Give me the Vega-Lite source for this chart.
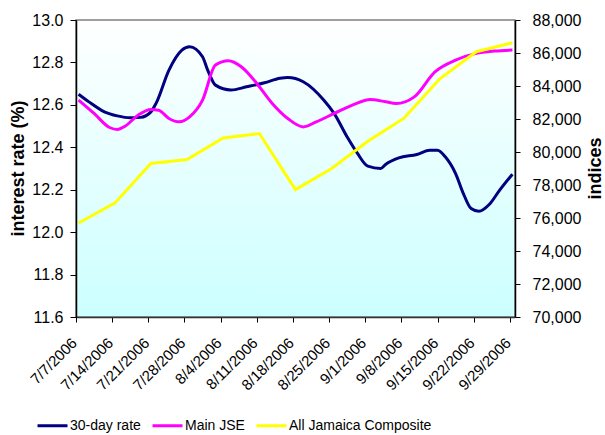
{
  "$schema": "https://vega.github.io/schema/vega-lite/v6.json",
  "width": 439,
  "height": 297,
  "autosize": {"type": "none"},
  "padding": {"left": 76, "top": 20, "right": 90, "bottom": 118},
  "background": "#ffffff",
  "view": {
    "fill": {
      "gradient": "linear", "x1": 0, "y1": 0, "x2": 0, "y2": 1,
      "stops": [{"offset": 0, "color": "#ffffff"}, {"offset": 1, "color": "#ccffff"}]
    },
    "stroke": "#808080",
    "strokeWidth": 1.5
  },
  "datasets": {
    "rate": [
      {"date": "2006-07-07T12:00:00", "value": 12.65},
      {"date": "2006-07-09T12:00:00", "value": 12.614},
      {"date": "2006-07-12T12:00:00", "value": 12.567},
      {"date": "2006-07-15T00:00:00", "value": 12.548},
      {"date": "2006-07-17T12:00:00", "value": 12.539},
      {"date": "2006-07-19T12:00:00", "value": 12.541},
      {"date": "2006-07-21T12:00:00", "value": 12.567},
      {"date": "2006-07-22T12:00:00", "value": 12.607},
      {"date": "2006-07-25T00:00:00", "value": 12.764},
      {"date": "2006-07-27T12:00:00", "value": 12.858},
      {"date": "2006-07-29T00:00:00", "value": 12.874},
      {"date": "2006-07-31T12:00:00", "value": 12.827},
      {"date": "2006-08-01T12:00:00", "value": 12.764},
      {"date": "2006-08-03T00:00:00", "value": 12.693},
      {"date": "2006-08-06T00:00:00", "value": 12.67},
      {"date": "2006-08-09T00:00:00", "value": 12.685},
      {"date": "2006-08-12T12:00:00", "value": 12.704},
      {"date": "2006-08-15T12:00:00", "value": 12.725},
      {"date": "2006-08-17T00:00:00", "value": 12.729},
      {"date": "2006-08-20T00:00:00", "value": 12.709},
      {"date": "2006-08-24T00:00:00", "value": 12.622},
      {"date": "2006-08-26T00:00:00", "value": 12.559},
      {"date": "2006-08-28T12:00:00", "value": 12.449},
      {"date": "2006-08-30T12:00:00", "value": 12.371},
      {"date": "2006-09-01T12:00:00", "value": 12.311},
      {"date": "2006-09-04T00:00:00", "value": 12.3},
      {"date": "2006-09-05T00:00:00", "value": 12.32},
      {"date": "2006-09-07T12:00:00", "value": 12.35},
      {"date": "2006-09-11T00:00:00", "value": 12.366},
      {"date": "2006-09-13T12:00:00", "value": 12.386},
      {"date": "2006-09-15T00:00:00", "value": 12.386},
      {"date": "2006-09-16T12:00:00", "value": 12.355},
      {"date": "2006-09-18T12:00:00", "value": 12.276},
      {"date": "2006-09-20T00:00:00", "value": 12.182},
      {"date": "2006-09-21T12:00:00", "value": 12.111},
      {"date": "2006-09-23T00:00:00", "value": 12.098},
      {"date": "2006-09-25T00:00:00", "value": 12.13},
      {"date": "2006-09-27T00:00:00", "value": 12.197},
      {"date": "2006-09-29T12:00:00", "value": 12.273}
    ],
    "jse": [
      {"date": "2006-07-07T12:00:00", "value": 83143},
      {"date": "2006-07-10T12:00:00", "value": 82334},
      {"date": "2006-07-13T12:00:00", "value": 81486},
      {"date": "2006-07-15T00:00:00", "value": 81364},
      {"date": "2006-07-16T12:00:00", "value": 81565},
      {"date": "2006-07-19T00:00:00", "value": 82233},
      {"date": "2006-07-21T12:00:00", "value": 82578},
      {"date": "2006-07-23T00:00:00", "value": 82536},
      {"date": "2006-07-25T00:00:00", "value": 82032},
      {"date": "2006-07-27T00:00:00", "value": 81826},
      {"date": "2006-07-29T00:00:00", "value": 82130},
      {"date": "2006-07-31T12:00:00", "value": 83143},
      {"date": "2006-08-03T00:00:00", "value": 85268},
      {"date": "2006-08-05T12:00:00", "value": 85530},
      {"date": "2006-08-08T00:00:00", "value": 85165},
      {"date": "2006-08-11T00:00:00", "value": 84157},
      {"date": "2006-08-14T00:00:00", "value": 82943},
      {"date": "2006-08-17T00:00:00", "value": 82032},
      {"date": "2006-08-20T00:00:00", "value": 81520},
      {"date": "2006-08-22T12:00:00", "value": 81826},
      {"date": "2006-08-26T00:00:00", "value": 82336},
      {"date": "2006-08-29T12:00:00", "value": 82840},
      {"date": "2006-09-02T00:00:00", "value": 83186},
      {"date": "2006-09-05T00:00:00", "value": 83040},
      {"date": "2006-09-07T00:00:00", "value": 82943},
      {"date": "2006-09-10T12:00:00", "value": 83343},
      {"date": "2006-09-14T12:00:00", "value": 84860},
      {"date": "2006-09-18T12:00:00", "value": 85571},
      {"date": "2006-09-22T12:00:00", "value": 85977},
      {"date": "2006-09-26T00:00:00", "value": 86118},
      {"date": "2006-09-29T12:00:00", "value": 86179}
    ],
    "composite": [
      {"date": "2006-07-07T12:00:00", "value": 75700},
      {"date": "2006-07-14T12:00:00", "value": 76900},
      {"date": "2006-07-21T12:00:00", "value": 79300},
      {"date": "2006-07-28T12:00:00", "value": 79550},
      {"date": "2006-08-04T12:00:00", "value": 80850},
      {"date": "2006-08-11T12:00:00", "value": 81120},
      {"date": "2006-08-18T12:00:00", "value": 77720},
      {"date": "2006-08-25T12:00:00", "value": 79000},
      {"date": "2006-09-01T12:00:00", "value": 80650},
      {"date": "2006-09-08T12:00:00", "value": 82050},
      {"date": "2006-09-15T12:00:00", "value": 84450},
      {"date": "2006-09-22T12:00:00", "value": 86080},
      {"date": "2006-09-29T12:00:00", "value": 86620}
    ]
  },
  "encoding": {
    "x": {
      "field": "date",
      "type": "temporal",
      "title": null,
      "scale": {
        "domain": [
          {"year": 2006, "month": 7, "date": 7},
          {"year": 2006, "month": 9, "date": 30}
        ]
      },
      "axis": {
        "values": [
          {"year": 2006, "month": 7, "date": 7},
          {"year": 2006, "month": 7, "date": 14},
          {"year": 2006, "month": 7, "date": 21},
          {"year": 2006, "month": 7, "date": 28},
          {"year": 2006, "month": 8, "date": 4},
          {"year": 2006, "month": 8, "date": 11},
          {"year": 2006, "month": 8, "date": 18},
          {"year": 2006, "month": 8, "date": 25},
          {"year": 2006, "month": 9, "date": 1},
          {"year": 2006, "month": 9, "date": 8},
          {"year": 2006, "month": 9, "date": 15},
          {"year": 2006, "month": 9, "date": 22},
          {"year": 2006, "month": 9, "date": 29}
        ],
        "format": "%-m/%-d/%Y",
        "labelAngle": -45,
        "labelAlign": "right",
        "labelBaseline": "top",
        "labelPadding": 13,
        "labelOffset": -7,
        "labelFont": "Liberation Sans",
        "labelFontSize": 15,
        "labelColor": "#000000",
        "labelOverlap": false,
        "labelBound": false,
        "labelFlush": false,
        "grid": false,
        "tickSize": 5,
        "tickColor": "#000000",
        "domainColor": "#333333",
        "domainWidth": 1.5
      }
    },
    "color": {
      "type": "nominal",
      "scale": {
        "domain": ["30-day rate", "Main JSE", "All Jamaica Composite"],
        "range": ["#000080", "#ff00ff", "#ffff00"]
      },
      "legend": {
        "title": null,
        "orient": "none",
        "direction": "horizontal",
        "legendX": -40,
        "legendY": 389,
        "symbolType": "stroke",
        "symbolSize": 900,
        "symbolStrokeWidth": 3,
        "labelOffset": 1,
        "columnPadding": 5,
        "labelFont": "Liberation Sans",
        "labelFontSize": 14,
        "labelColor": "#000000",
        "labelLimit": 300
      }
    }
  },
  "layer": [
    {
      "data": {"name": "rate"},
      "mark": {"type": "line", "interpolate": "monotone", "strokeWidth": 3},
      "encoding": {
        "y": {
          "field": "value",
          "type": "quantitative",
          "scale": {"domain": [11.6, 13.0], "nice": false, "zero": false},
          "axis": {
            "orient": "left",
            "values": [11.6, 11.8, 12.0, 12.2, 12.4, 12.6, 12.8, 13.0],
            "format": ".1f",
            "title": "interest rate (%)",
            "titleFont": "Liberation Sans",
            "titleFontSize": 18,
            "titleFontWeight": "bold",
            "titleColor": "#000000",
            "titleAngle": -90,
            "titleX": -58,
            "titleY": 148,
            "titleAlign": "center",
            "titleBaseline": "middle",
            "labelFont": "Liberation Sans",
            "labelFontSize": 16,
            "labelColor": "#000000",
            "labelPadding": 7,
            "grid": false,
            "tickSize": 6,
            "tickColor": "#000000",
            "domainColor": "#000000",
            "domainWidth": 1.5
          }
        },
        "color": {"datum": "30-day rate"}
      }
    },
    {
      "data": {"name": "jse"},
      "mark": {"type": "line", "interpolate": "monotone", "strokeWidth": 3},
      "encoding": {
        "y": {
          "field": "value",
          "type": "quantitative",
          "scale": {"domain": [70000, 88000], "nice": false, "zero": false},
          "axis": {
            "orient": "right",
            "values": [70000, 72000, 74000, 76000, 78000, 80000, 82000, 84000, 86000, 88000],
            "format": ",.0f",
            "title": "indices",
            "titleFont": "Liberation Sans",
            "titleFontSize": 18,
            "titleFontWeight": "bold",
            "titleColor": "#000000",
            "titleAngle": 270,
            "titleX": 80,
            "titleY": 148,
            "titleAlign": "center",
            "titleBaseline": "middle",
            "labelFont": "Liberation Sans",
            "labelFontSize": 16,
            "labelColor": "#000000",
            "labelPadding": 12,
            "grid": false,
            "tickSize": 5,
            "tickColor": "#000000",
            "domainColor": "#000000",
            "domainWidth": 1.5
          }
        },
        "color": {"datum": "Main JSE"}
      }
    },
    {
      "data": {"name": "composite"},
      "mark": {"type": "line", "interpolate": "linear", "strokeWidth": 3},
      "encoding": {
        "y": {
          "field": "value",
          "type": "quantitative",
          "scale": {"domain": [70000, 88000], "nice": false, "zero": false},
          "axis": null
        },
        "color": {"datum": "All Jamaica Composite"}
      }
    }
  ],
  "resolve": {"scale": {"y": "independent"}}
}
